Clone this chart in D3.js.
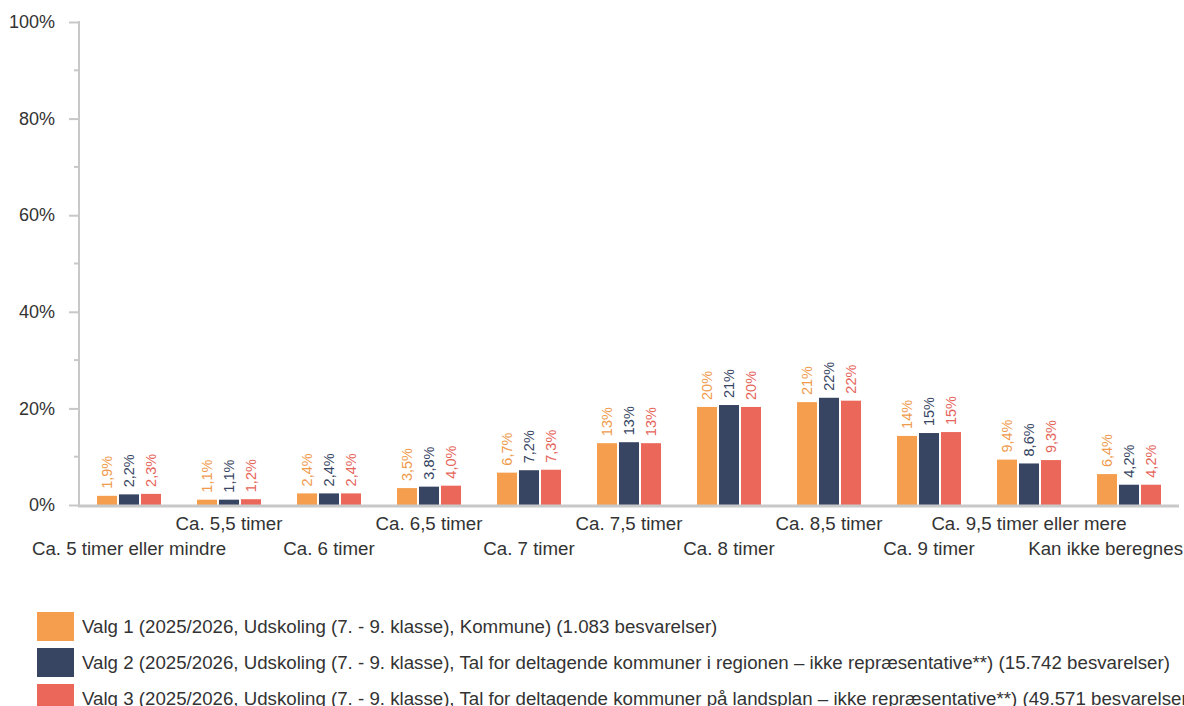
<!DOCTYPE html>
<html><head><meta charset="utf-8">
<script src="https://cdn.jsdelivr.net/npm/d3@7"></script>
<style>body{margin:0;background:#fff;font-family:"Liberation Sans",Arial,sans-serif;}</style>
</head><body><svg id="c" width="1184" height="706"></svg>
<script>
const categories = ["Ca. 5 timer eller mindre","Ca. 5,5 timer","Ca. 6 timer","Ca. 6,5 timer","Ca. 7 timer","Ca. 7,5 timer","Ca. 8 timer","Ca. 8,5 timer","Ca. 9 timer","Ca. 9,5 timer eller mere","Kan ikke beregnes"];
const series1 = [1.9,1.1,2.4,3.5,6.7,12.8,20.3,21.3,14.3,9.4,6.4];
const series2 = [2.2,1.1,2.4,3.8,7.2,13.0,20.7,22.2,14.9,8.6,4.2];
const series3 = [2.3,1.2,2.4,4.0,7.3,12.8,20.3,21.6,15.1,9.3,4.2];
const seriesNames = [
 "Valg 1 (2025/2026, Udskoling (7. - 9. klasse), Kommune) (1.083 besvarelser)",
 "Valg 2 (2025/2026, Udskoling (7. - 9. klasse), Tal for deltagende kommuner i regionen – ikke repræsentative**) (15.742 besvarelser)",
 "Valg 3 (2025/2026, Udskoling (7. - 9. klasse), Tal for deltagende kommuner på landsplan – ikke repræsentative**) (49.571 besvarelser)"];
const colors = ["#f59e4e","#374563","#eb675a"];
const labelColors = ["#ef9a4c","#374563","#e5645a"];
const yTicks = [0,20,40,60,80,100];

const svg = d3.select("#c");
const FONT = "Liberation Sans, Arial, sans-serif";
const FS = 18.7;
const x0 = 79, x1 = 1179, yTop = 22, yBot = 505;
const y = d3.scaleLinear().domain([0,100]).range([yBot,yTop]);
const xb = d3.scaleBand().domain(categories).range([x0,x1]).paddingInner(0).paddingOuter(0);
const allSeries = [series1,series2,series3];
const xs = d3.scaleBand().domain([0,1,2]).range([-32,32]).paddingInner(0.09);

// y-axis
const axis = d3.axisLeft(y).tickValues(yTicks).tickFormat(d=>d+"%").tickSize(10).tickPadding(14);
const gy = svg.append("g").attr("transform",`translate(${x0},0)`).call(axis);
gy.select(".domain").remove();
gy.selectAll(".tick line").attr("stroke","#c8c8c8").attr("stroke-width",2);
gy.selectAll(".tick text").attr("font-size",18).attr("fill","#333").attr("font-family",FONT);
// minor ticks
const minor = d3.range(10,100,20);
svg.append("g").selectAll("line").data(minor).join("line")
  .attr("x1",x0-5).attr("x2",x0).attr("y1",d=>y(d)).attr("y2",d=>y(d))
  .attr("stroke","#c8c8c8").attr("stroke-width",2);
svg.append("line").attr("x1",x0).attr("x2",x0).attr("y1",yTop-1).attr("y2",yBot).attr("stroke","#c8c8c8").attr("stroke-width",2);

// bars
const fmt = v => v >= 9.95 ? Math.round(v)+"%" : v.toFixed(1).replace(".",",")+"%";
allSeries.forEach((s,si)=>{
  const g = svg.append("g");
  g.selectAll("rect").data(s).join("rect")
    .attr("x",(d,i)=>xb(categories[i])+xb.bandwidth()/2+xs(si))
    .attr("width",xs.bandwidth())
    .attr("y",d=>y(d)).attr("height",d=>yBot-y(d))
    .attr("fill",colors[si]);
  g.selectAll("text").data(s).join("text")
    .attr("transform",(d,i)=>`translate(${xb(categories[i])+xb.bandwidth()/2+xs(si)+xs.bandwidth()/2+5},${y(d)-7}) rotate(-90)`)
    .attr("font-size",14.5).attr("fill",labelColors[si]).attr("text-anchor","start")
    .text(fmt);
});
// baseline
svg.append("line").attr("x1",x0-1).attr("x2",x1).attr("y1",yBot+1).attr("y2",yBot+1).attr("stroke","#c8c8c8").attr("stroke-width",3);

// x labels
svg.append("g").selectAll("text").data(categories).join("text")
  .attr("y",(d,i)=> i%2===0 ? 555 : 530)
  .attr("text-anchor","middle").attr("font-size",FS).attr("fill","#333").text(d=>d)
  .attr("x",function(d){
    const c = xb(d)+xb.bandwidth()/2;
    const w = this.getComputedTextLength();
    return Math.min(c, 1183 - w/2);
  });

// legend
const lg = svg.append("g").selectAll("g").data(seriesNames).join("g")
  .attr("transform",(d,i)=>`translate(37,${612+i*36})`);
lg.append("rect").attr("width",37).attr("height",29).attr("fill",(d,i)=>colors[i]);
lg.append("text").attr("x",45).attr("y",21).attr("font-size",FS).attr("fill","#333").text(d=>d);
</script></body></html>
